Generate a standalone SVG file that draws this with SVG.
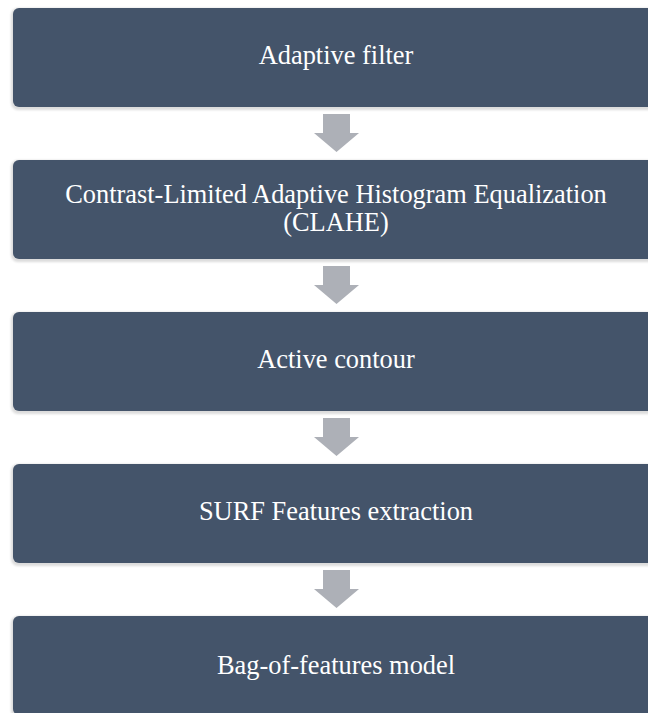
<svg xmlns="http://www.w3.org/2000/svg" width="648" height="713" viewBox="0 0 648 713">
  <style>
    .box { fill: #44546a; }
    .rim { fill: #dcdcdc; }
    .label { font-family: "Liberation Serif", "Times New Roman", serif; font-size: 26.4px; fill: #ffffff; text-anchor: middle; }
    .arrow { fill: #adb0b7; }
  </style>
  <defs>
    <filter id="soft" x="-5%" y="-20%" width="110%" height="140%">
      <feGaussianBlur stdDeviation="0.8"/>
    </filter>
  </defs>
  <rect width="648" height="713" fill="#ffffff"/>

  <!-- process steps -->
  <g id="step-adaptive-filter">
    <rect class="rim" x="11" y="8" width="650" height="102" rx="7" filter="url(#soft)"/>
    <rect class="box" x="13" y="8" width="650" height="99" rx="6"/>
    <text class="label" x="336" y="64">Adaptive filter</text>
  </g>
  <g id="step-clahe">
    <rect class="rim" x="11" y="160" width="650" height="102" rx="7" filter="url(#soft)"/>
    <rect class="box" x="13" y="160" width="650" height="99" rx="6"/>
    <text class="label" x="336" y="203">Contrast-Limited Adaptive Histogram Equalization</text>
    <text class="label" x="336" y="231">(CLAHE)</text>
  </g>
  <g id="step-active-contour">
    <rect class="rim" x="11" y="312" width="650" height="102" rx="7" filter="url(#soft)"/>
    <rect class="box" x="13" y="312" width="650" height="99" rx="6"/>
    <text class="label" x="336" y="368">Active contour</text>
  </g>
  <g id="step-surf">
    <rect class="rim" x="11" y="464" width="650" height="102" rx="7" filter="url(#soft)"/>
    <rect class="box" x="13" y="464" width="650" height="99" rx="6"/>
    <text class="label" x="336" y="520">SURF Features extraction</text>
  </g>
  <g id="step-bag-of-features">
    <rect class="rim" x="11" y="616" width="650" height="102" rx="7" filter="url(#soft)"/>
    <rect class="box" x="13" y="616" width="650" height="99" rx="6"/>
    <text class="label" x="336" y="674">Bag-of-features model</text>
  </g>

  <!-- block arrows between steps -->
  <g id="connectors">
    <polygon class="arrow" points="323,114 350,114 350,133 359,133 336.5,152 314,133 323,133"/>
    <polygon class="arrow" points="323,266 350,266 350,285 359,285 336.5,304 314,285 323,285"/>
    <polygon class="arrow" points="323,418 350,418 350,437 359,437 336.5,456 314,437 323,437"/>
    <polygon class="arrow" points="323,570 350,570 350,589 359,589 336.5,608 314,589 323,589"/>
  </g>
</svg>
